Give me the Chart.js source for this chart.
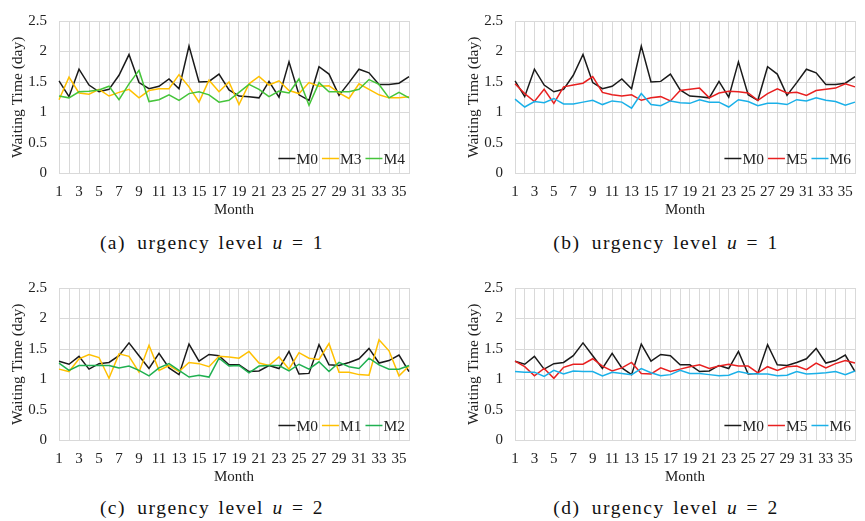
<!DOCTYPE html>
<html>
<head>
<meta charset="utf-8">
<script src="https://cdn.jsdelivr.net/npm/chart.js@4.4.1/dist/chart.umd.min.js"></script>
<style>
  body { margin: 0; background: #fff; width: 865px; height: 521px; overflow: hidden; position: relative; }
  canvas { position: absolute; }
  .cap {
    position: absolute; transform: translate(-50%, -50%); white-space: nowrap;
    font-family: 'Liberation Serif', 'Times New Roman', Times, 'DejaVu Serif', serif;
    font-size: 19.5px; letter-spacing: 1.5px; word-spacing: 2px; color: #111;
  }
</style>
</head>
<body>
<canvas id="chartA" width="430" height="222" style="left:0;top:0"></canvas>
<canvas id="chartB" width="409" height="222" style="left:456px;top:0"></canvas>
<canvas id="chartC" width="430" height="222" style="left:0;top:266.5px"></canvas>
<canvas id="chartD" width="409" height="222" style="left:456px;top:266.5px"></canvas>
<div class="cap" style="left:212px;top:243px">(a)&ensp;urgency level <i>u</i> = 1</div>
<div class="cap" style="left:666px;top:243px">(b)&ensp;urgency level <i>u</i> = 1</div>
<div class="cap" style="left:212px;top:508px">(c)&ensp;urgency level <i>u</i> = 2</div>
<div class="cap" style="left:666px;top:508px">(d)&ensp;urgency level <i>u</i> = 2</div>
<script>
// Waiting time per month, four panels (urgency level 1 and 2)

const months = ['1','2','3','4','5','6','7','8','9','10','11','12','13','14','15','16','17','18',
    '19','20','21','22','23','24','25','26','27','28','29','30','31','32','33','34','35','36'];
const yTickValues = [0, 0.5, 1, 1.5, 2, 2.5];

// urgency level u = 1
const m0U1 = [1.52,1.26,1.71,1.45,1.34,1.38,1.61,1.95,1.49,1.39,1.43,1.55,1.39,2.09,1.50,1.51,1.63,1.37,
    1.27,1.26,1.24,1.51,1.25,1.83,1.29,1.20,1.75,1.63,1.28,1.49,1.71,1.65,1.46,1.46,1.48,1.59];
const m3U1 = [1.21,1.58,1.32,1.30,1.38,1.27,1.33,1.38,1.24,1.36,1.39,1.39,1.62,1.42,1.17,1.53,1.34,1.50,
    1.13,1.47,1.59,1.45,1.52,1.36,1.31,1.49,1.43,1.44,1.32,1.23,1.47,1.38,1.29,1.24,1.24,1.26];
const m4U1 = [1.27,1.24,1.34,1.35,1.37,1.43,1.21,1.47,1.69,1.18,1.21,1.29,1.20,1.31,1.34,1.29,1.17,1.20,
    1.33,1.46,1.38,1.26,1.35,1.32,1.55,1.12,1.49,1.34,1.34,1.34,1.38,1.54,1.46,1.24,1.33,1.24];
const m5U1 = [1.47,1.31,1.18,1.38,1.15,1.42,1.45,1.48,1.59,1.33,1.29,1.27,1.29,1.20,1.24,1.26,1.19,1.36,
    1.38,1.40,1.24,1.32,1.35,1.34,1.32,1.20,1.31,1.39,1.32,1.33,1.28,1.36,1.38,1.40,1.47,1.42];
const m6U1 = [1.22,1.09,1.18,1.16,1.23,1.14,1.14,1.17,1.20,1.13,1.19,1.17,1.07,1.31,1.13,1.11,1.19,1.16,
    1.15,1.21,1.17,1.17,1.09,1.21,1.18,1.11,1.15,1.15,1.13,1.21,1.19,1.24,1.20,1.18,1.12,1.17];

// urgency level u = 2
const m0U2 = [1.30,1.25,1.38,1.17,1.26,1.28,1.39,1.60,1.39,1.18,1.43,1.19,1.08,1.58,1.30,1.41,1.39,1.24,
    1.24,1.13,1.14,1.23,1.18,1.46,1.09,1.10,1.57,1.24,1.23,1.28,1.34,1.51,1.27,1.31,1.40,1.13];
const m1U2 = [1.17,1.13,1.34,1.41,1.36,1.02,1.42,1.38,1.12,1.56,1.15,1.23,1.13,1.28,1.26,1.21,1.38,1.37,
    1.35,1.46,1.27,1.23,1.37,1.17,1.44,1.35,1.33,1.59,1.12,1.12,1.08,1.07,1.65,1.47,1.06,1.22];
const m2U2 = [1.27,1.15,1.23,1.23,1.23,1.23,1.19,1.22,1.15,1.06,1.19,1.26,1.15,1.04,1.07,1.04,1.35,1.22,
    1.23,1.11,1.22,1.23,1.23,1.14,1.25,1.17,1.29,1.13,1.28,1.21,1.18,1.35,1.24,1.17,1.17,1.23];
const m5U2 = [1.30,1.21,1.06,1.18,1.02,1.20,1.25,1.25,1.34,1.22,1.14,1.19,1.28,1.10,1.09,1.19,1.13,1.17,
    1.21,1.24,1.18,1.22,1.25,1.22,1.22,1.11,1.21,1.15,1.21,1.22,1.16,1.27,1.19,1.26,1.31,1.27];
const m6U2 = [1.13,1.12,1.12,1.05,1.15,1.09,1.14,1.13,1.13,1.06,1.12,1.10,1.08,1.18,1.11,1.06,1.08,1.15,
    1.10,1.10,1.08,1.06,1.07,1.13,1.10,1.09,1.09,1.06,1.07,1.13,1.09,1.10,1.11,1.13,1.08,1.14];

const COLORS = {
    M0: '#1a1a1a',
    M1: '#ffc000',
    M2: '#1fb050',
    M3: '#ffc000',
    M4: '#45c43a',
    M5: '#e82020',
    M6: '#1ab0e8',
    grid: '#d9d9d9',
    text: '#222',
};

const SERIF = "'Liberation Serif', 'Times New Roman', Times, 'DejaVu Serif', serif";

Chart.defaults.font.family = SERIF;
Chart.defaults.font.size = 15;
Chart.defaults.color = COLORS.text;

// legend drawn inside the plot, bottom right (as in the source figure)
const insideLegend = {
    id: 'insideLegend',
    afterDatasetsDraw(chart) {
        const { ctx, chartArea } = chart;
        const lineLen = 17, gap = 1, spacing = 4;
        ctx.save();
        ctx.font = '15.5px ' + SERIF;
        ctx.textBaseline = 'middle';
        const items = chart.data.datasets.map(ds => ({
            label: ds.label, color: ds.borderColor, w: ctx.measureText(ds.label).width,
        }));
        const total = items.reduce((s, it) => s + lineLen + gap + it.w, 0) + spacing * (items.length - 1);
        let x = chartArea.right - 4 - total;
        const y = chartArea.bottom - 15;
        items.forEach(it => {
            ctx.strokeStyle = it.color;
            ctx.lineWidth = 1.5;
            ctx.beginPath();
            ctx.moveTo(x, y);
            ctx.lineTo(x + lineLen, y);
            ctx.stroke();
            x += lineLen + gap;
            ctx.fillStyle = COLORS.text;
            ctx.fillText(it.label, x, y + 1);
            x += it.w + spacing;
        });
        ctx.restore();
    },
};

function renderPanel(canvasId, series, padRight) {
    const ctx = document.getElementById(canvasId);
    new Chart(ctx, {
        type: 'line',
        data: {
            labels: months,
            datasets: series.map(([label, data], i) => ({
                label,
                data,
                borderColor: COLORS[label],
                backgroundColor: COLORS[label],
                borderWidth: 1.5,
                pointRadius: 0,
                tension: 0,
                order: series.length - i,
            })),
        },
        options: {
            responsive: false,
            animation: false,
            layout: { padding: { left: 0, top: 15, right: padRight, bottom: 0 } },
            plugins: { legend: { display: false }, tooltip: { enabled: false } },
            scales: {
                x: {
                    offset: false,
                    grid: { color: COLORS.grid, drawTicks: false },
                    border: { color: COLORS.grid },
                    ticks: {
                        autoSkip: false,
                        maxRotation: 0,
                        padding: 10,
                        callback: (v, i) => (i % 2 === 0 ? months[i] : ''),
                    },
                    title: { display: true, text: 'Month', padding: { top: 0, bottom: 2.5 } },
                    afterFit: s => { s.height = 48.5; },
                },
                y: {
                    min: 0,
                    max: 2.5,
                    grid: { color: COLORS.grid, drawTicks: false },
                    border: { color: COLORS.grid },
                    ticks: { padding: 12, callback: v => String(v) },
                    afterBuildTicks: s => { s.ticks = yTickValues.map(v => ({ value: v })); },
                    title: {
                        display: true, text: 'Waiting Time (day)', font: { size: 15.5 },
                        padding: { top: 8.7, bottom: 0 },
                    },
                    afterFit: s => { s.width = 59; },
                },
            },
        },
        plugins: [insideLegend],
    });
}

renderPanel('chartA', [['M0', m0U1], ['M3', m3U1], ['M4', m4U1]], 21);
renderPanel('chartB', [['M0', m0U1], ['M5', m5U1], ['M6', m6U1]], 0);
renderPanel('chartC', [['M0', m0U2], ['M1', m1U2], ['M2', m2U2]], 21);
renderPanel('chartD', [['M0', m0U2], ['M5', m5U2], ['M6', m6U2]], 0);
</script>
</body>
</html>
